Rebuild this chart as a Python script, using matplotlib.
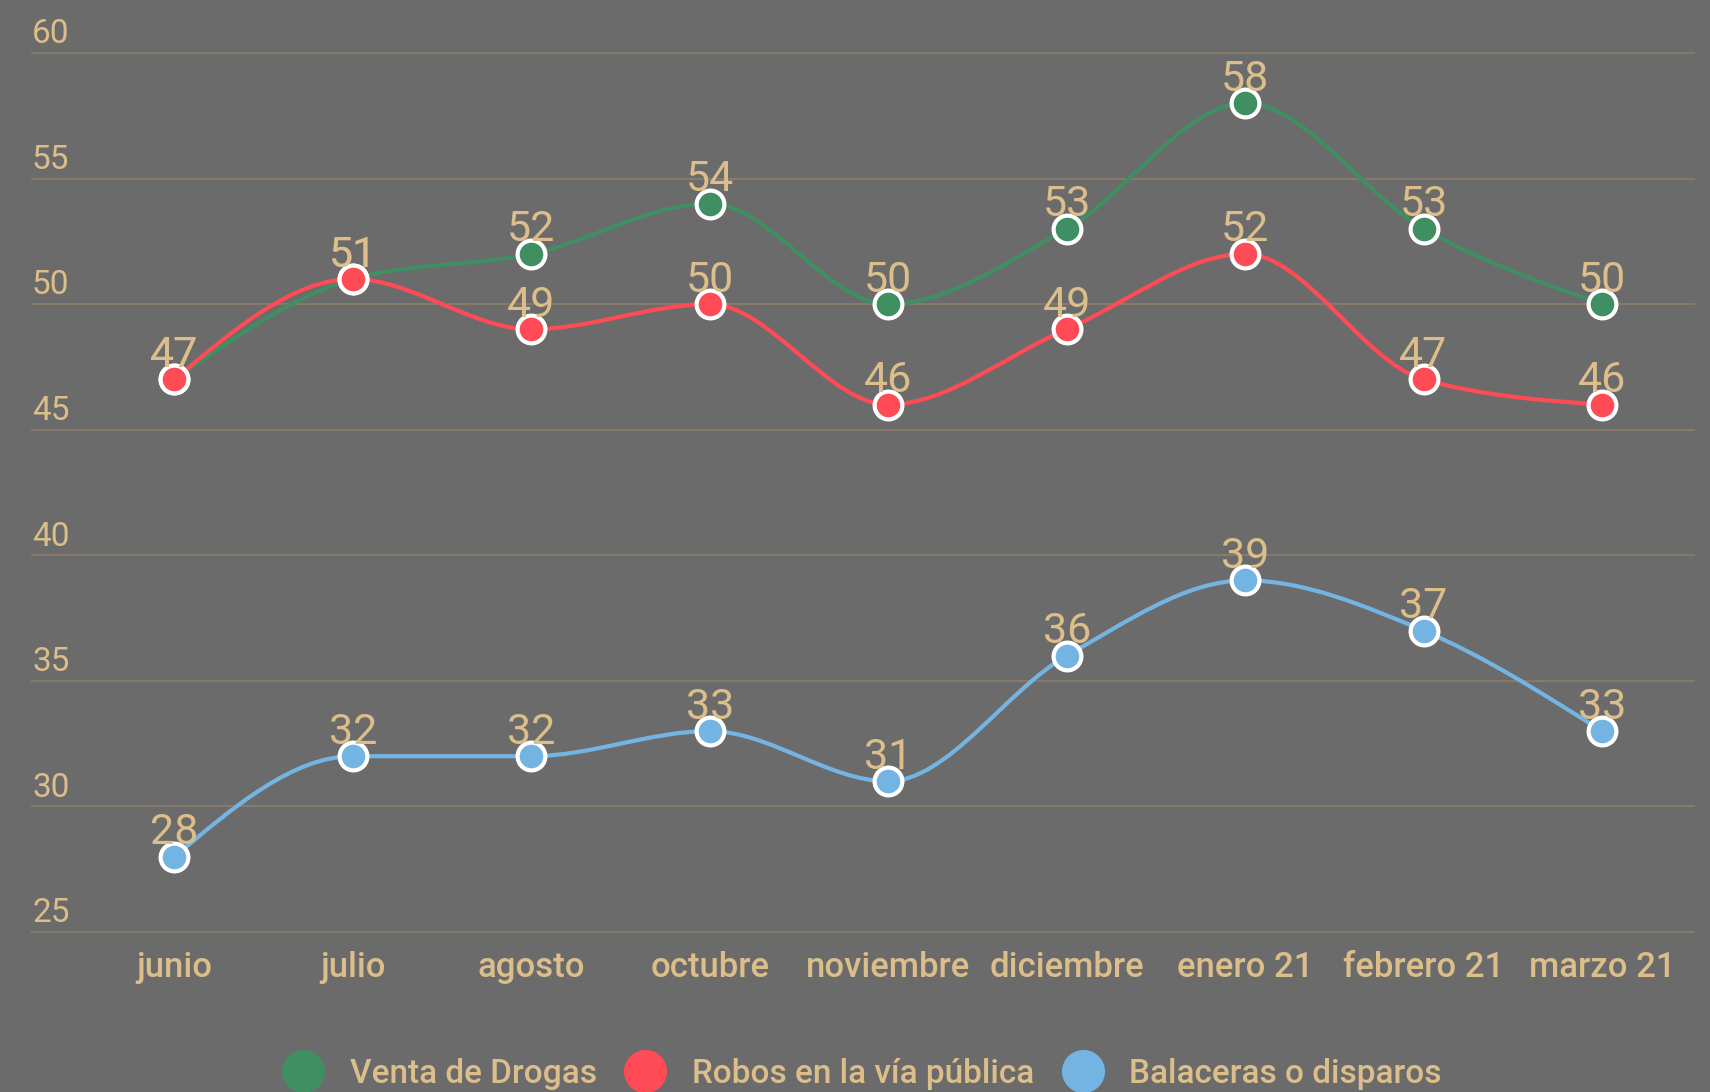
import numpy as np
import matplotlib
matplotlib.use("Agg")
import matplotlib.pyplot as plt
from matplotlib.path import Path
from matplotlib.patches import PathPatch
from matplotlib.lines import Line2D

# --------------------------------------------------------------------------- #
# data
# --------------------------------------------------------------------------- #
months = ["junio", "julio", "agosto", "octubre", "noviembre", "diciembre",
          "enero 21", "febrero 21", "marzo 21"]
drogas = [47, 51, 52, 54, 50, 53, 58, 53, 50]
robos = [47, 51, 49, 50, 46, 49, 52, 47, 46]
balaceras = [28, 32, 32, 33, 31, 36, 39, 37, 33]
series_names = ["Venta de Drogas", "Robos en la vía pública", "Balaceras o disparos"]
y_ticks = [25, 30, 35, 40, 45, 50, 55, 60]

BG = "#6b6b6b"
TXT = "#dcbe8a"
GRID = "#857a6b"
COLORS = ["#3f8f62", "#ff4b55", "#74b4e2"]

plt.rcParams["font.family"] = ["Roboto", "DejaVu Sans"]


def monotone_path(x, y):
    """Cubic bezier path through the points (monotone-x smoothing)."""
    x = np.asarray(x, float)
    y = np.asarray(y, float)
    h = np.diff(x)
    s = np.diff(y) / h
    t = np.zeros(len(x))
    for i in range(1, len(x) - 1):
        p = (s[i - 1] * h[i] + s[i] * h[i - 1]) / (h[i - 1] + h[i])
        t[i] = (np.sign(s[i - 1]) + np.sign(s[i])) * min(abs(s[i - 1]), abs(s[i]), 0.5 * abs(p))
    t[0] = (3 * s[0] - t[1]) / 2
    t[-1] = (3 * s[-1] - t[-2]) / 2
    verts = [(x[0], y[0])]
    codes = [Path.MOVETO]
    for i in range(len(x) - 1):
        d = h[i] / 3
        verts += [(x[i] + d, y[i] + d * t[i]),
                  (x[i + 1] - d, y[i + 1] - d * t[i + 1]),
                  (x[i + 1], y[i + 1])]
        codes += [Path.CURVE4] * 3
    return Path(verts, codes)


W, H = 1710, 1092
fig = plt.figure(figsize=(W / 100, H / 100), dpi=100, facecolor=BG)
ax = fig.add_axes([32 / W, 1 - 932 / H, (1694 - 32) / W, (932 - 53) / H])
ax.set_facecolor(BG)
for sp in ax.spines.values():
    sp.set_visible(False)

xs = np.arange(len(months))
ax.set_xlim(-0.7986, 8.516)
ax.set_ylim(25, 60)

for v in y_ticks:
    ax.axhline(v, color=GRID, lw=1.5, clip_on=False, zorder=1)
    ax.annotate(str(v), xy=(0, v), xycoords=("axes fraction", "data"),
                xytext=(0, 7), textcoords="offset points", ha="left",
                va="baseline", fontsize=24, color=TXT)
ax.set_yticks([])

ax.set_xticks(xs)
ax.set_xticklabels(months, fontweight="medium")
ax.tick_params(axis="x", length=0, pad=14, labelsize=25, labelcolor=TXT)

for vals, col, z in [(balaceras, COLORS[2], 3), (drogas, COLORS[0], 4), (robos, COLORS[1], 5)]:
    ax.add_patch(PathPatch(monotone_path(xs, vals), fill=False, edgecolor=col,
                           lw=3, zorder=z, clip_on=False))
    ax.plot(xs, vals, "o", ms=20, mfc=col, mec="white", mew=3, zorder=z + 3,
            clip_on=False)
    for xi, v in zip(xs, vals):
        ax.annotate(str(v), xy=(xi, v), xytext=(0, 9), textcoords="offset points",
                    ha="center", va="baseline", fontsize=31, color=TXT, zorder=10)

handles = [Line2D([], [], marker="o", ls="none", ms=31, mfc=c, mec="none")
           for c in COLORS]
fig.legend(handles, series_names, loc="center", bbox_to_anchor=(0.504, 0.0165),
           ncol=3, frameon=False, labelcolor=TXT, handlelength=1.3,
           handletextpad=0.75, columnspacing=0.8, borderpad=0,
           prop={"family": "Roboto", "size": 24, "weight": "medium"})

fig.savefig("out.png", dpi=100, facecolor=BG)
